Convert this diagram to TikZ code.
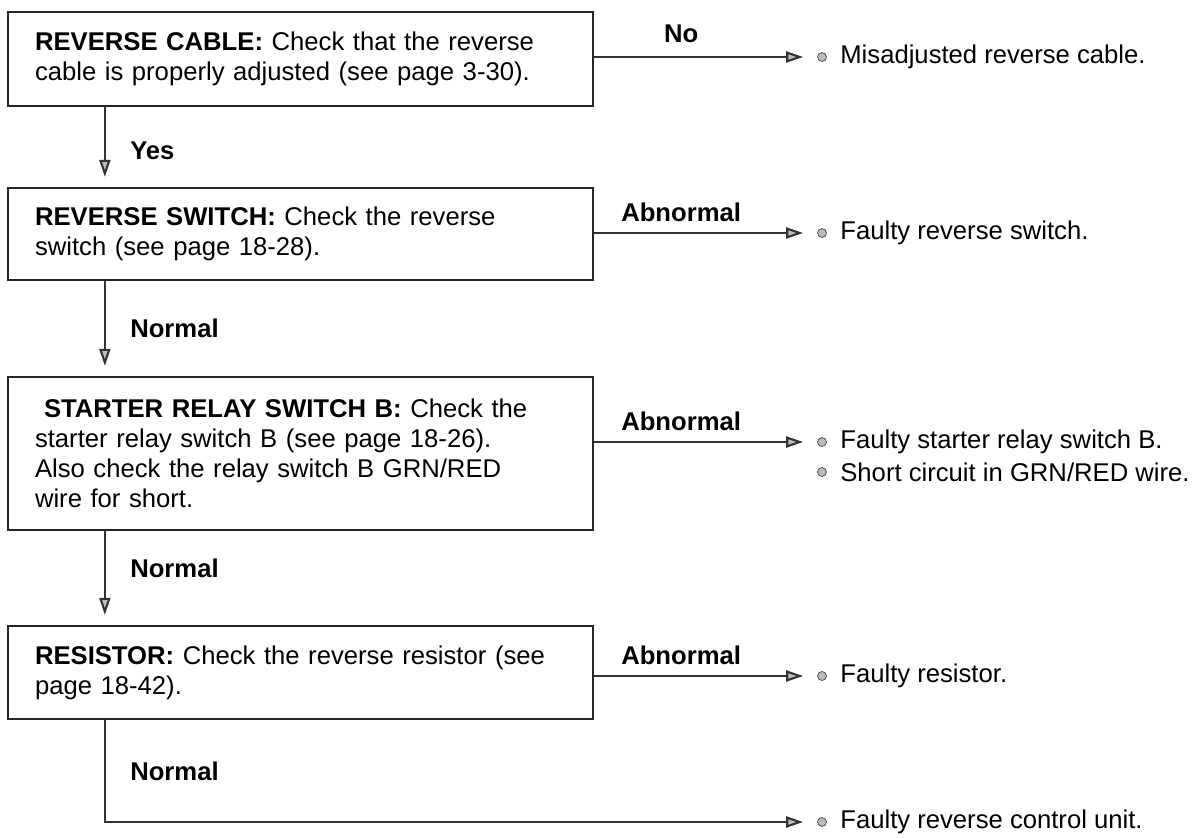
\documentclass[tikz,border=0pt]{standalone}
\usepackage{fontspec}
\setmainfont{Liberation Sans}
\usetikzlibrary{arrows.meta}

\begin{document}
\begin{tikzpicture}[
  font=\fontsize{14.6}{17}\selectfont,
  check/.style={draw=black!85,line width=1.3pt,inner xsep=0.54cm,inner ysep=0pt,
    text width=10.62cm,align=left,minimum height=#1},
  check/.default=1.86cm,
  flow/.style={draw=black!80,line width=1.2pt,
    -{Triangle[length=0.34cm,width=0.22cm,fill=gray!50]}},
  dot/.style={circle,draw=gray!60!black,fill=gray!55,inner sep=0pt,minimum size=0.18cm},
  result/.style={anchor=west,inner sep=0pt},
  tag/.style={font=\fontsize{14.6}{17}\selectfont\bfseries}
]
\useasboundingbox (0,0) rectangle (23.96,-16.78);

% Checks
\node[check=1.88cm] (cable) at (6.01,-1.18) {\textbf{REVERSE CABLE:} Check that the reverse\\cable is properly adjusted (see page 3-30).};
\node[check=1.84cm] (swtch) at (6.01,-4.68) {\textbf{REVERSE SWITCH:} Check the reverse\\switch (see page 18-28).};
\node[check=3.06cm] (relay) at (6.01,-9.07) {\hspace*{0.18cm}\textbf{STARTER RELAY SWITCH B:} Check the\\starter relay switch B (see page 18-26).\\Also check the relay switch B GRN/RED\\wire for short.};
\node[check=1.86cm] (resist) at (6.01,-13.45) {\textbf{RESISTOR:} Check the reverse resistor (see\\page 18-42).};

% Results
\node[dot] (d1) at (16.44,-1.14) {};
\node[result] (r1) at (16.8,-1.14) {Misadjusted reverse cable.};
\node[dot] (d2) at (16.44,-4.66) {};
\node[result] (r2) at (16.8,-4.66) {Faulty reverse switch.};
\node[dot] (d3) at (16.44,-8.84) {};
\node[result] (r3) at (16.8,-8.84) {Faulty starter relay switch B.};
\node[dot] (d3b) at (16.44,-9.44) {};
\node[result] (r3b) at (16.8,-9.44) {Short circuit in GRN/RED wire.};
\node[dot] (d4) at (16.44,-13.52) {};
\node[result] (r4) at (16.8,-13.52) {Faulty resistor.};
\node[dot] (d5) at (16.44,-16.44) {};
\node[result] (r5) at (16.8,-16.44) {Faulty reverse control unit.};

% Fault branches
\draw[flow,shorten >=0.28cm] (cable.east |- d1) -- node[tag,pos=0.39,above=0.14cm] {No} (d1);
\draw[flow,shorten >=0.28cm] (swtch.east |- d2) -- node[tag,pos=0.39,above=0.08cm] {Abnormal} (d2);
\draw[flow,shorten >=0.28cm] (relay.east |- d3) -- node[tag,pos=0.39,above=0.08cm] {Abnormal} (d3);
\draw[flow,shorten >=0.28cm] (resist.east |- d4) -- node[tag,pos=0.39,above=0.08cm] {Abnormal} (d4);

% Main line
\draw[flow,shorten >=0.2cm] ([xshift=1.96cm]cable.south west) -- node[tag,pos=0.55,right=0.37cm] {Yes} ([xshift=1.96cm]swtch.north west);
\draw[flow,shorten >=0.2cm] ([xshift=1.96cm]swtch.south west) -- node[tag,pos=0.5,right=0.37cm] {Normal} ([xshift=1.96cm]relay.north west);
\draw[flow,shorten >=0.2cm] ([xshift=1.96cm]relay.south west) -- node[tag,pos=0.4,right=0.37cm] {Normal} ([xshift=1.96cm]resist.north west);
\draw[flow,shorten >=0.28cm] ([xshift=1.96cm]resist.south west) |- node[tag,pos=0.25,right=0.37cm] {Normal} (d5);
\end{tikzpicture}
\end{document}
